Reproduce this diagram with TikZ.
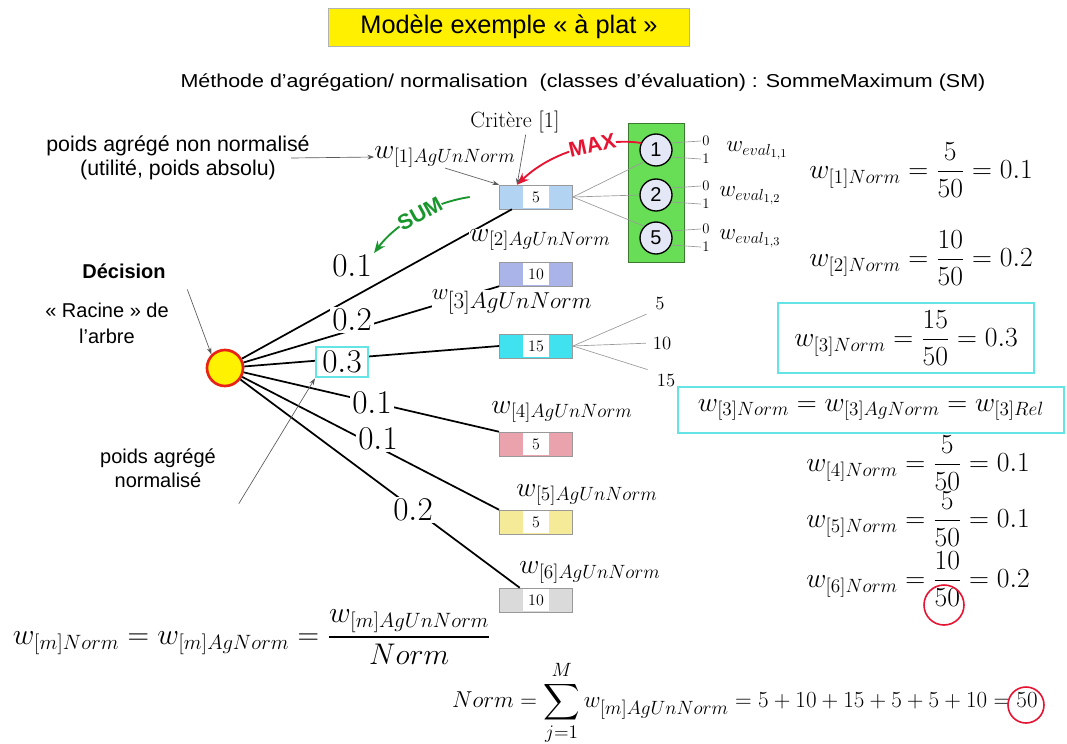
\documentclass[tikz,border=0pt]{standalone}
\usepackage{amsmath,amssymb}
\usepackage{graphicx}
\usepackage{fontspec}
\setsansfont{Liberation Sans}
\usetikzlibrary{arrows.meta,positioning,calc}
\definecolor{titley}{RGB}{255,240,0}
\definecolor{boxA}{RGB}{178,212,242}
\definecolor{boxB}{RGB}{170,180,232}
\definecolor{boxC}{RGB}{64,226,240}
\definecolor{boxD}{RGB}{234,162,172}
\definecolor{boxE}{RGB}{244,234,152}
\definecolor{boxF}{RGB}{218,218,218}
\definecolor{evgreen}{RGB}{104,222,86}
\definecolor{maxred}{RGB}{230,20,50}
\definecolor{sumgreen}{RGB}{24,150,44}
\definecolor{hicyan}{RGB}{100,228,228}
\definecolor{rootred}{RGB}{232,34,20}
\definecolor{circfill}{RGB}{228,232,246}
\newcommand{\fsz}[1]{\fontsize{#1}{#1}\selectfont}

\begin{document}
\begin{tikzpicture}[x=0.75pt, y=-0.75pt, every node/.style={inner sep=1pt},
  critbox/.style={draw=black!40, minimum width=55pt, minimum height=18pt, inner sep=0pt},
  valbox/.style={fill=white, font=\fsz{12}, minimum width=19pt, minimum height=16pt, inner sep=0pt},
  weight/.style={fill=white, font=\fsz{23}, inner sep=1.5pt},
  aglabel/.style={fill=white, font=\fsz{20}, inner sep=0pt},
  branch/.style={line width=1.3pt},
  fan/.style={black!40, line width=0.5pt},
  evcirc/.style={circle, draw, line width=1pt, fill=circfill, minimum size=24pt, inner sep=0pt, font=\sffamily\fsz{15}},
  formula/.style={font=\fsz{21}},
  hibox/.style={draw=hicyan, line width=1.5pt},
  ptr/.style={-{Stealth[length=5pt,width=3.5pt]}, black!65, line width=0.5pt},
  redring/.style={circle, draw=maxred, line width=1.2pt}]
\useasboundingbox (0,0) rectangle (1067,743);
% ---- title
\node[fill=titley, draw=black!30, minimum width=271pt, minimum height=28.5pt,
  font=\sffamily\fsz{19}] (title) at (509,27) {Modèle exemple « à plat »};
\node[font=\sffamily\fsz{14}] (subt) at (583,83)
  {\scalebox{1.15}[1]{Méthode d'agrégation/ normalisation\ \ (classes d'évaluation) : SommeMaximum (SM)}};
% ---- criteria boxes
\foreach \n/\y/\c/\v in {1/197/boxA/5, 2/274/boxB/10, 3/346/boxC/15, 4/444/boxD/5, 5/522/boxE/5, 6/600/boxF/10}{
  \node[critbox, fill=\c] (b\n) at (536,\y) {};
  \node[valbox] at (b\n) {\v};
}
% ---- root of the tree
\node[circle, draw=rootred, line width=2pt, fill=yellow, minimum size=27pt] (root) at (225,368) {};
\draw[branch] (root) -- (b1.207);
\draw[branch] (root) -- (b2.south west);
\draw[branch] (root) -- (b3.west);
\draw[branch] (root) -- (b4.north west);
\draw[branch] (root) -- (b5.north west);
\draw[branch] (root) -- (b6.143);
% ---- weights on the branches
\node[weight] (p1) at (352,266) {$0.1$};
\node[weight] (p2) at (352,320) {$0.2$};
\node[weight, hibox, minimum width=39pt, minimum height=23pt] (p3) at (342,362) {$0.3$};
\node[weight] (p4) at (372,403) {$0.1$};
\node[weight] (p5) at (378,439) {$0.1$};
\node[weight] (p6) at (413,510) {$0.2$};
% ---- aggregated weights
\node[aglabel] (wl1) at (445,157) {$w_{[1]AgUnNorm}$};
\node[aglabel] (wl2) at (540,240) {$w_{[2]AgUnNorm}$};
\node[aglabel, font=\fsz{18.5}] (wl3) at (512,302) {$w_{\textstyle[3]AgUnNorm}$};
\node[aglabel] (wl4) at (562,412) {$w_{[4]AgUnNorm}$};
\node[aglabel] (wl5) at (587,495) {$w_{[5]AgUnNorm}$};
\node[aglabel] (wl6) at (590,572) {$w_{[6]AgUnNorm}$};
% ---- evaluation classes of criterion 1
\node[draw=black!45!evgreen, fill=evgreen, minimum width=42pt, minimum height=104pt] (grn) at (656,192.5) {};
\foreach \i/\y/\t/\lx in {1/150/1/757, 2/195/2/750, 3/238/5/750}{
  \node[evcirc] (c\i) at (656,\y) {\t};
  \node[font=\fsz{11}] (zo\i) at (706,{\y-9}) {0};
  \node[font=\fsz{11}] (zi\i) at (706,{\y+9}) {1};
  \draw[fan] (c\i.25) -- (zo\i.west);
  \draw[fan] (c\i.-25) -- (zi\i.west);
  \node[font=\fsz{18.5}] (ev\i) at (\lx,{\y+1}) {$w_{eval_{1,\i}}$};
}
\draw[fan] (b1.east) -- (c1.south west);
\draw[fan] (b1.east) -- (c2.west);
\draw[fan] (b1.east) -- (c3.north west);
% ---- classes of criterion 3
\node[font=\fsz{14}] (f1) at (660,303) {5};
\node[font=\fsz{14}] (f2) at (662,343) {10};
\node[font=\fsz{14}] (f3) at (666,380) {15};
\draw[fan, shorten >=6pt] (b3.east) -- (f1.south west);
\draw[fan, shorten >=4pt] (b3.east) -- (f2.west);
\draw[fan, shorten >=6pt] (b3.east) -- (f3.north west);
% ---- MAX and SUM
\draw[maxred, line width=1.4pt, -{Stealth[length=9pt,width=7pt]}] (c1.155)
  .. controls (610,138) and (555,148) .. (b1.147)
  node[pos=0.42, sloped, fill=white, inner sep=0pt, text=maxred, font=\sffamily\bfseries\fsz{16}] {MAX};
\draw[sumgreen, line width=1.4pt, -{Stealth[length=9pt,width=7pt]}] ([xshift=-22pt]b1.west)
  .. controls (430,203) and (395,225) .. (p1.north east)
  node[pos=0.45, sloped, fill=white, inner sep=0pt, text=sumgreen, font=\sffamily\bfseries\fsz{16}] {SUM};
% ---- annotations
\node[font=\fsz{16.5}] (crit) at (515,122) {Critère [1]};
\draw[ptr] ([xshift=8pt]crit.south) -- (b1.147);
\node[font=\sffamily\fontsize{16}{18}\selectfont, align=center] (absw) at (178,158)
  {poids agrégé non normalisé\\(utilité, poids absolu)};
\draw[ptr] ([xshift=-15pt]absw.east) -- (wl1.west);
\draw[ptr] (wl1.south) -- (b1.north west);
\node[font=\sffamily\bfseries\fsz{15}] (dec) at (124,271) {Décision};
\node[font=\sffamily\fontsize{15}{19.5}\selectfont, align=center] (rac) at (107,323)
  {« Racine » de\\l'arbre};
\draw[ptr] ([xshift=15pt,yshift=-7pt]dec.south east) -- (root.north west);
\node[font=\sffamily\fontsize{15}{18}\selectfont, align=center] (nrm) at (158,468)
  {poids agrégé\\normalisé};
\draw[ptr] ([xshift=16pt,yshift=-11pt]nrm.south east) -- (p3.south west);
% ---- normalised weights
\node[formula] (eq1) at (921,170) {$\displaystyle w_{[1]Norm} = \frac{5}{50} = 0.1$};
\node[formula] (eq2) at (921,258) {$\displaystyle w_{[2]Norm} = \frac{10}{50} = 0.2$};
\node[formula, font=\fsz{21.5}, hibox, minimum width=192pt, minimum height=52pt] (eq3) at (906,338)
  {$\displaystyle w_{[3]Norm} = \frac{15}{50} = 0.3$};
\node[formula, font=\fsz{22.5}, hibox, minimum width=289pt, minimum height=34pt] (eq3r) at (871,410)
  {$w_{[3]Norm} = w_{[3]AgNorm} = w_{[3]Rel}$};
\node[formula, font=\fsz{20.5}] (eq4) at (918,463) {$\displaystyle w_{[4]Norm} = \frac{5}{50} = 0.1$};
\node[formula, font=\fsz{20.5}] (eq5) at (918,519) {$\displaystyle w_{[5]Norm} = \frac{5}{50} = 0.1$};
\node[formula, font=\fsz{20.5}] (eq6) at (918,579) {$\displaystyle w_{[6]Norm} = \frac{10}{50} = 0.2$};
\node[redring, minimum size=30pt] (ring1) at (944,605) {};
% ---- general formulas
\node[formula, font=\fsz{22}] (eqm) at (252,637)
  {\scalebox{1.08}{$\displaystyle w_{[m]Norm} = w_{[m]AgNorm} = \frac{w_{[m]AgUnNorm}}{Norm}$}};
\node[formula, font=\fsz{19}] (eqs) at (745,703)
  {$\displaystyle Norm = \sum_{j=1}^{M} w_{[m]AgUnNorm} = 5+10+15+5+5+10 = 50$};
\node[redring, minimum size=27pt] (ring2) at (1026,705) {};
\end{tikzpicture}
\end{document}
